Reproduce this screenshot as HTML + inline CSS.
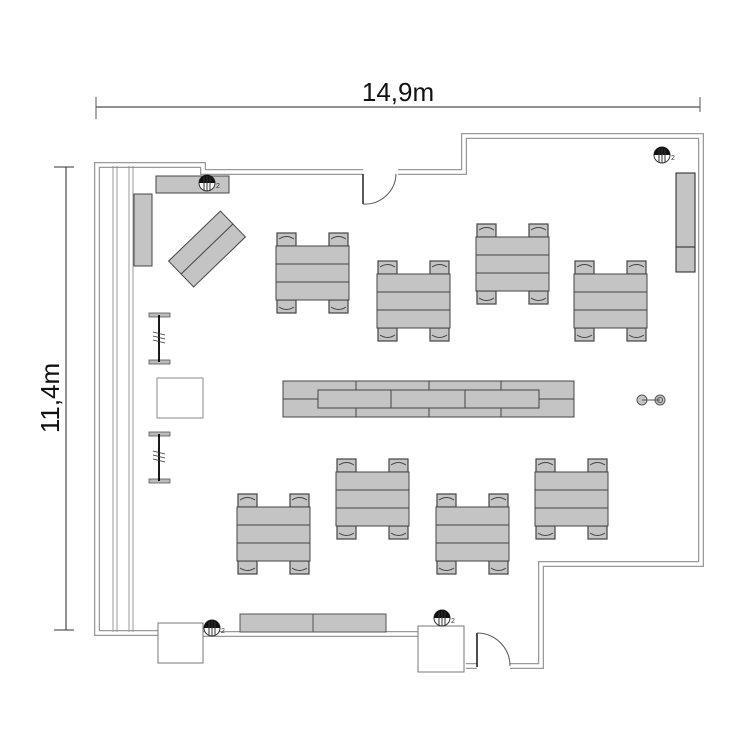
<!DOCTYPE html>
<html><head><meta charset="utf-8"><style>
html,body{margin:0;padding:0;background:#fff}
svg{display:block}
text{font-family:"Liberation Sans",sans-serif}
</style></head><body>
<svg width="750" height="750" viewBox="0 0 750 750" xmlns="http://www.w3.org/2000/svg">
<defs>
<g id="chair">
  <rect x="0" y="0" width="19" height="13" fill="#c4c4c4" stroke="#444" stroke-width="1.2"/>
  <path d="M2,6 Q9.5,1 17,6" fill="none" stroke="#444" stroke-width="1"/>
</g>
<g id="tbl">
  <use href="#chair" x="1" y="-13"/>
  <use href="#chair" x="53" y="-13"/>
  <g transform="translate(0,54) scale(1,-1) translate(0,-13)">
    <use href="#chair" x="1" y="0"/>
    <use href="#chair" x="53" y="0"/>
  </g>
  <rect x="0" y="0" width="73" height="54" fill="#c4c4c4" stroke="#444" stroke-width="1"/>
  <line x1="0" y1="18" x2="73" y2="18" stroke="#444"/>
  <line x1="0" y1="36" x2="73" y2="36" stroke="#444"/>
</g>
<g id="outlet">
  <circle cx="0" cy="0" r="8" fill="#fff" stroke="#333" stroke-width="1"/>
  <path d="M-8,0 A8,8 0 0 1 8,0 Z" fill="#111"/>
  <line x1="-3" y1="-6" x2="-3" y2="7" stroke="#333"/>
  <line x1="0" y1="-7" x2="0" y2="8" stroke="#333"/>
  <line x1="3" y1="-6" x2="3" y2="7" stroke="#333"/>
  <text x="9" y="5" font-size="7" fill="#333">2</text>
</g>
<g id="ibar">
  <rect x="-10" y="0" width="21" height="4" fill="#bbb" stroke="#555" stroke-width="0.8"/>
  <rect x="-10" y="47" width="21" height="4" fill="#bbb" stroke="#555" stroke-width="0.8"/>
  <line x1="0" y1="2" x2="0" y2="49" stroke="#000" stroke-width="1.8"/>
  <line x1="-6" y1="19" x2="6" y2="22" stroke="#333" stroke-width="0.8"/>
  <line x1="-6" y1="23" x2="6" y2="26" stroke="#333" stroke-width="0.8"/>
  <line x1="-6" y1="27" x2="6" y2="30" stroke="#333" stroke-width="0.8"/>
</g>
</defs>

<!-- dimensions -->
<line x1="96" y1="107" x2="700" y2="107" stroke="#222" stroke-width="1"/>
<line x1="96" y1="97" x2="96" y2="119" stroke="#555"/>
<line x1="700" y1="97" x2="700" y2="112" stroke="#555"/>
<text x="398" y="101" font-size="26" text-anchor="middle" fill="#111">14,9m</text>
<line x1="66" y1="167" x2="66" y2="630" stroke="#222" stroke-width="1"/>
<line x1="54" y1="167" x2="74" y2="167" stroke="#333"/>
<line x1="54" y1="630" x2="74" y2="630" stroke="#333"/>
<text transform="translate(59,398) rotate(-90)" font-size="26" text-anchor="middle" fill="#111">11,4m</text>

<!-- walls -->
<g fill="none" stroke-linejoin="miter">
  <g stroke="#999" stroke-width="6">
    <polyline points="363,172 203,172 203,165 97,165 97,633 159,633"/>
    <polyline points="398,172 464,172 464,136 701,136 701,564 541,564 541,666 510,666"/>
    <polyline points="203,634 418,634"/>
    <polyline points="466,666 477,666"/>
  </g>
  <g stroke="#fff" stroke-width="3.5">
    <polyline points="363,172 203,172 203,165 97,165 97,633 159,633"/>
    <polyline points="398,172 464,172 464,136 701,136 701,564 541,564 541,666 510,666"/>
    <polyline points="203,634 418,634"/>
    <polyline points="466,666 477,666"/>
  </g>
</g>
<g stroke="#999" stroke-width="1">
  <line x1="113" y1="166" x2="113" y2="632"/>
  <line x1="117" y1="166" x2="117" y2="632"/>
  <line x1="129" y1="166" x2="129" y2="632"/>
  <line x1="133" y1="166" x2="133" y2="632"/>
</g>

<!-- doors -->
<line x1="363" y1="174" x2="363" y2="204" stroke="#222" stroke-width="1.5"/>
<path d="M363,204 A31,31 0 0 0 396,174" fill="none" stroke="#555"/>
<line x1="477" y1="633" x2="477" y2="667" stroke="#111" stroke-width="1.5"/>
<path d="M477,633 A33,33 0 0 1 510,666" fill="none" stroke="#555"/>

<rect x="158" y="623" width="45" height="40" fill="#fff" stroke="#777"/>
<rect x="418" y="626" width="46" height="46" fill="#fff" stroke="#777"/>

<rect x="156" y="176" width="73" height="17" fill="#c4c4c4" stroke="#444"/>
<rect x="134" y="194" width="18" height="72" fill="#c4c4c4" stroke="#444"/>
<g transform="translate(207,249) rotate(-44)">
  <rect x="-36" y="-18" width="72" height="36" fill="#c4c4c4" stroke="#444"/>
  <line x1="-36" y1="0" x2="36" y2="0" stroke="#444"/>
</g>
<use href="#ibar" x="159" y="313"/>
<use href="#ibar" x="159" y="432"/>
<rect x="157" y="378" width="46" height="40" fill="#fff" stroke="#888"/>

<use href="#tbl" x="276" y="246"/>
<use href="#tbl" x="377" y="274"/>
<use href="#tbl" x="476" y="237"/>
<use href="#tbl" x="574" y="274"/>
<use href="#tbl" x="237" y="507"/>
<use href="#tbl" x="336" y="472"/>
<use href="#tbl" x="436" y="507"/>
<use href="#tbl" x="535" y="472"/>

<rect x="283" y="381" width="291" height="36" fill="#c4c4c4" stroke="#444"/>
<g stroke="#444">
  <line x1="356" y1="381" x2="356" y2="390"/><line x1="429" y1="381" x2="429" y2="390"/><line x1="501" y1="381" x2="501" y2="390"/>
  <line x1="356" y1="408" x2="356" y2="417"/><line x1="429" y1="408" x2="429" y2="417"/><line x1="501" y1="408" x2="501" y2="417"/>
  <line x1="283" y1="399" x2="318" y2="399"/><line x1="539" y1="399" x2="574" y2="399"/>
</g>
<rect x="318" y="390" width="221" height="18" fill="#c4c4c4" stroke="#444"/>
<line x1="391" y1="390" x2="391" y2="408" stroke="#444"/>
<line x1="465" y1="390" x2="465" y2="408" stroke="#444"/>

<rect x="676" y="173" width="19" height="99" fill="#c4c4c4" stroke="#222"/>
<line x1="676" y1="247" x2="695" y2="247" stroke="#222"/>
<g stroke="#555" fill="#c4c4c4">
  <circle cx="642" cy="400" r="5"/>
  <circle cx="660" cy="400" r="5"/>
  <line x1="642" y1="400" x2="660" y2="400"/>
  <circle cx="660" cy="400" r="2.5" fill="none"/>
</g>

<rect x="240" y="614" width="146" height="18" fill="#c4c4c4" stroke="#555"/>
<line x1="313" y1="614" x2="313" y2="632" stroke="#555"/>

<use href="#outlet" x="207" y="183"/>
<use href="#outlet" x="662" y="155"/>
<use href="#outlet" x="212" y="628"/>
<use href="#outlet" x="442" y="618"/>
</svg>
</body></html>
